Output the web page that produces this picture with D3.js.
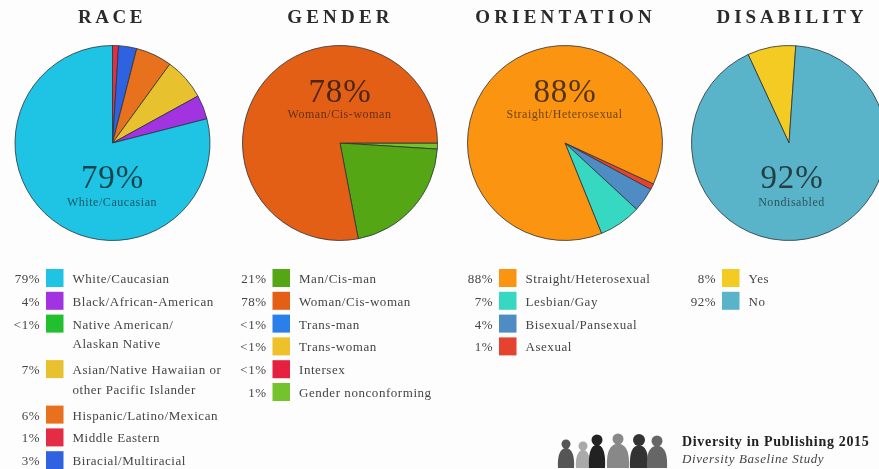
<!DOCTYPE html>
<html><head><meta charset="utf-8">
<script src="https://cdnjs.cloudflare.com/ajax/libs/d3/7.8.5/d3.min.js"></script>
<style>
html,body{margin:0;padding:0;background:#fdfdfd;overflow:hidden}
svg{display:block;filter:blur(0.35px)}
text{font-family:"Liberation Serif",serif}
</style></head><body>
<script>
const raceLabels=["White/Caucasian","Black/African-American","Native American/\nAlaskan Native","Asian/Native Hawaiian or\nother Pacific Islander","Hispanic/Latino/Mexican","Middle Eastern","Biracial/Multiracial"];
const racePct=["79%","4%","<1%","7%","6%","1%","3%"];
const raceColors=["#1fc4e4","#a233e0","#22bf2f","#e8c22e","#e8711e","#e32d45","#2f62e0"];
const raceSlices=[1,3,6,7,4,79];
const raceSliceColors=["#e32d45","#2f62e0","#e8711e","#e8c22e","#a233e0","#1fc4e4"];

const genderLabels=["Man/Cis-man","Woman/Cis-woman","Trans-man","Trans-woman","Intersex","Gender nonconforming"];
const genderPct=["21%","78%","<1%","<1%","<1%","1%"];
const genderColors=["#55a614","#e35f16","#2b7fe8","#eec12a","#e6203f","#74c32c"];
const genderSlices=[1,21,78];
const genderSliceColors=["#74c32c","#55a614","#e35f16"];

const orientLabels=["Straight/Heterosexual","Lesbian/Gay","Bisexual/Pansexual","Asexual"];
const orientPct=["88%","7%","4%","1%"];
const orientColors=["#fb9410","#37d8c2","#4f8cc4","#e5432f"];
const orientSlices=[1,4,7,88];
const orientSliceColors=["#e5432f","#4f8cc4","#37d8c2","#fb9410"];

const disabLabels=["Yes","No"];
const disabPct=["8%","92%"];
const disabColors=["#f4cb22","#59b4ca"];
const disabSlices=[8,92];
const disabSliceColors=["#f4cb22","#59b4ca"];

const deg=Math.PI/180;
const panels=[
 {title:"RACE",tx:110,ls:3.6,cx:112.5,start:0,slices:raceSlices,cols:raceSliceColors,big:"79%",sub:"White/Caucasian",by:188,sy:206,lab:raceLabels,pct:racePct,lc:raceColors,sw:46},
 {title:"GENDER",tx:338.5,ls:4.2,cx:340,start:90,slices:genderSlices,cols:genderSliceColors,big:"78%",sub:"Woman/Cis-woman",by:101.5,sy:117.5,lab:genderLabels,pct:genderPct,lc:genderColors,sw:272.5},
 {title:"ORIENTATION",tx:563.5,ls:4.2,cx:565,start:114.8,slices:orientSlices,cols:orientSliceColors,big:"88%",sub:"Straight/Heterosexual",by:101.5,sy:117.5,lab:orientLabels,pct:orientPct,lc:orientColors,sw:499},
 {title:"DISABILITY",tx:790,ls:3.9,cx:792,pieX:789,start:-24.8,slices:disabSlices,cols:disabSliceColors,big:"92%",sub:"Nondisabled",by:188,sy:206,lab:disabLabels,pct:disabPct,lc:disabColors,sw:722}
];
const svg=d3.select("body").append("svg").attr("width",879).attr("height",469);
svg.append("rect").attr("width",879).attr("height",469).attr("fill","#fdfdfd");
const cy=143,R=97.5;
const arc=d3.arc().innerRadius(0).outerRadius(R);
panels.forEach(p=>{
  svg.append("text").attr("x",p.tx+2).attr("y",23).attr("text-anchor","middle")
    .attr("font-size",19).attr("font-weight",700).attr("letter-spacing",p.ls).attr("fill","#2a2a2a").text(p.title);
  const pie=d3.pie().sort(null).startAngle(p.start*deg).endAngle((p.start+360)*deg);
  const px=p.pieX||p.cx;
  const g=svg.append("g").attr("transform",`translate(${px},${cy})`);
  g.selectAll("path").data(pie(p.slices)).join("path").attr("d",arc)
    .attr("fill",(d,i)=>p.cols[i]).attr("stroke","#2b3238").attr("stroke-opacity",.8).attr("stroke-width",1);
  svg.append("text").attr("x",p.cx).attr("y",p.by).attr("text-anchor","middle").attr("font-size",33).attr("letter-spacing",.8)
    .attr("fill","#111").attr("fill-opacity",.72).text(p.big);
  svg.append("text").attr("x",p.cx-.5).attr("y",p.sy).attr("text-anchor","middle").attr("font-size",12).attr("letter-spacing",.55)
    .attr("fill","#111").attr("fill-opacity",.62).text(p.sub);
  let y=279;
  p.lab.forEach((l,i)=>{
    const lines=l.split("\n");
    svg.append("rect").attr("x",p.sw).attr("y",y-10).attr("width",17.5).attr("height",18).attr("fill",p.lc[i]);
    svg.append("text").attr("x",p.sw-6).attr("y",y+4).attr("text-anchor","end").attr("font-size",13).attr("letter-spacing",.5).attr("fill","#444").text(p.pct[i]);
    lines.forEach((t,k)=>svg.append("text").attr("x",p.sw+26.5).attr("y",y+4+k*19.5).attr("font-size",13).attr("letter-spacing",.55).attr("fill","#444").text(t));
    y+=lines.length>1?45.5:22.8;
  });
});
// footer logo: seated silhouettes [head x, head y, head r, colour, half width]
const people=[[566,444,4.5,"#555",8],[583,446,4.5,"#aaa",7],[597,440,5.5,"#222",8],[618,439,5.5,"#888",11],[639,440,6,"#333",9],[657,441,5.5,"#666",10]];
const logoBottom=468;
const logo=svg.append("g");
people.forEach(([x,y,r,c,w])=>{
  logo.append("circle").attr("cx",x).attr("cy",y).attr("r",r).attr("fill",c);
  logo.append("path").attr("d",`M${x-w},${logoBottom}C${x-w-1},${y+8} ${x-w*.5},${y+r} ${x},${y+r-1}C${x+w*.5},${y+r} ${x+w+1},${y+8} ${x+w},${logoBottom}Z`).attr("fill",c);
});
svg.append("text").attr("x",682).attr("y",446).attr("font-size",14).attr("font-weight",700).attr("letter-spacing",.68).attr("fill","#222").text("Diversity in Publishing 2015");
svg.append("text").attr("x",682).attr("y",463).attr("font-size",13).attr("font-style","italic").attr("letter-spacing",.6).attr("fill","#444").text("Diversity Baseline Study");
</script>
</body></html>
